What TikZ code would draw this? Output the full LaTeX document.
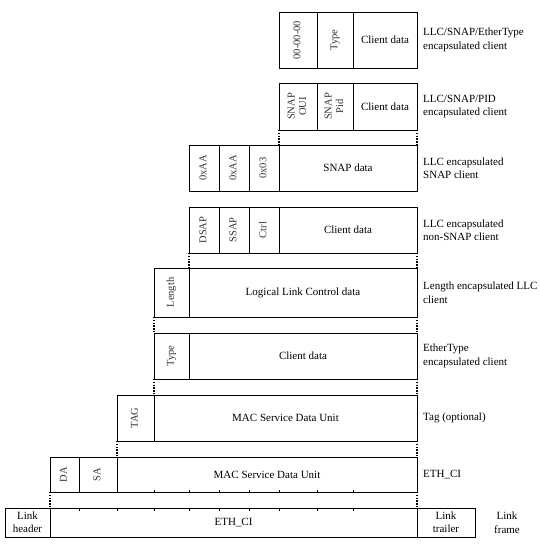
\documentclass[tikz,border=0pt]{standalone}
\usepackage{fontspec}
\setmainfont{Liberation Serif}
\usetikzlibrary{calc}
\tikzset{
  field/.style={draw=black, line width=0.9pt, inner sep=0pt, outer sep=0pt, anchor=north west, align=center, font=\fontsize{11}{13}\selectfont},
  rot/.style={field, text=black!80, font=\fontsize{10.5}{11.5}\selectfont},
  side/.style={anchor=west, align=left, inner sep=0pt, font=\fontsize{11}{13.5}\selectfont},
  dotline/.style={line width=1.2pt, dash pattern=on 1.4pt off 1.4pt},
  tickmark/.style={line width=0.6pt}
}
\newcommand\fld[7][field]{\node[#1, minimum width=#5pt-#3pt, minimum height=#6pt-#4pt] (#2) at (#3,#4) {#7};}
\newcommand\rtx[1]{\rotatebox{90}{\begin{tabular}{@{}c@{}}#1\end{tabular}}}
\begin{document}
\begin{tikzpicture}[x=1pt, y=-1pt]
\useasboundingbox (0,0) rectangle (540,550);
% Row 1
\fld[rot]{a1}{279}{12}{317}{68}{\rtx{00-00-00}}
\fld[rot]{a2}{317}{12}{353}{68}{\rtx{Type}}
\fld{a3}{353}{12}{417}{68}{Client data}
\node[side] (la) at (423,40) {LLC/SNAP/EtherType\\encapsulated client};
% Row 2
\fld[rot]{b1}{279}{83}{317}{130}{\rtx{SNAP\\OUI}}
\fld[rot]{b2}{317}{83}{353}{130}{\rtx{SNAP\\Pid}}
\fld{b3}{353}{83}{417}{130}{Client data}
\node[side] (lb) at (423,106.5) {LLC/SNAP/PID\\encapsulated client};
% Row 3
\fld[rot]{c1}{189}{145}{219}{191}{\rtx{0xAA}}
\fld[rot]{c2}{219}{145}{249}{191}{\rtx{0xAA}}
\fld[rot]{c3}{249}{145}{279}{191}{\rtx{0x03}}
\fld{c4}{279}{145}{417}{191}{SNAP data}
\node[side] (lc) at (423,168) {LLC encapsulated\\SNAP client};
% Row 4
\fld[rot]{d1}{189}{207}{219}{253}{\rtx{DSAP}}
\fld[rot]{d2}{219}{207}{249}{253}{\rtx{SSAP}}
\fld[rot]{d3}{249}{207}{279}{253}{\rtx{Ctrl}}
\fld{d4}{279}{207}{417}{253}{Client data}
\node[side] (ld) at (423,230) {LLC encapsulated\\non-SNAP client};
% Row 5
\fld[rot]{e1}{154}{268}{189}{317}{\rtx{Length}}
\fld{e2}{189}{268}{417}{317}{Logical Link Control data}
\node[side] (le) at (423,292.5) {Length encapsulated LLC\\client};
% Row 6
\fld[rot]{f1}{154}{333}{189}{379}{\rtx{Type}}
\fld{f2}{189}{333}{417}{379}{Client data}
\node[side] (lf) at (423,356) {EtherType\\encapsulated client};
% Row 7
\fld[rot]{g1}{117}{395}{154}{441}{\rtx{TAG}}
\fld{g2}{154}{395}{417}{441}{MAC Service Data Unit}
\node[side] (lg) at (423,418) {Tag (optional)};
% Row 8
\fld[rot]{h1}{50}{457}{79}{492}{\rtx{DA}}
\fld[rot]{h2}{79}{457}{117}{492}{\rtx{SA}}
\fld{h3}{117}{457}{417}{492}{MAC Service Data Unit}
\node[side] (lh) at (423,474.5) {ETH\_CI};
% Row 9
\fld{i1}{5}{508}{50}{537}{Link\\header}
\fld{i2}{50}{508}{417}{537}{ETH\_CI}
\fld{i3}{417}{508}{475}{537}{Link\\trailer}
\node[side, anchor=center, align=center] (li) at (507,522.5) {Link\\frame};
% dotted connectors
\draw[dotline] (b1.south west) -- (c4.north west);
\draw[dotline] (b3.south east) -- (c4.north east);
\draw[dotline] (d1.south west) -- (e2.north west);
\draw[dotline] (d4.south east) -- (e2.north east);
\draw[dotline] (e1.south west) -- (f1.north west);
\draw[dotline] (e2.south east) -- (f2.north east);
\draw[dotline] (f1.south west) -- (g2.north west);
\draw[dotline] (f2.south east) -- (g2.north east);
\draw[dotline] (g1.south west) -- (h3.north west);
\draw[dotline] (g2.south east) -- (h3.north east);
\draw[dotline] (h1.south west) -- (i2.north west);
\draw[dotline] (h3.south east) -- (i2.north east);
% tick marks
\foreach \x in {154,189,219,249,279,317,353} \draw[tickmark] (\x,492) -- (\x,489.5);
\foreach \x in {79,117,154,189,219,249,279,317,353} \draw[tickmark] (\x,508) -- (\x,510.5);
\end{tikzpicture}
\end{document}
